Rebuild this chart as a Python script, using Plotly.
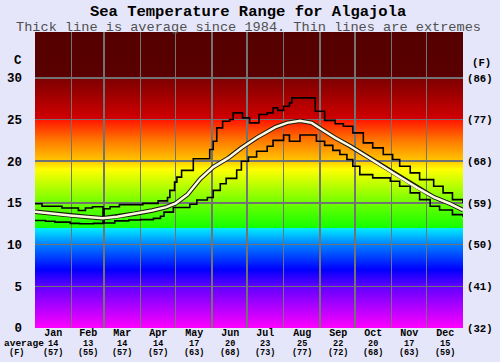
import plotly.graph_objects as go

# ---------------- data ----------------
month_names = ["Jan", "Feb", "Mar", "Apr", "May", "Jun", "Jul", "Aug", "Sep", "Oct", "Nov", "Dec"]
month_days = [31, 28, 31, 30, 31, 30, 31, 31, 30, 31, 30, 31]
month_avg_c = [14, 13, 14, 14, 17, 20, 23, 25, 22, 20, 17, 15]
month_avg_f = [57, 55, 57, 57, 63, 68, 73, 77, 72, 68, 63, 59]

y_ticks_c = [0, 5, 10, 15, 20, 25, 30]
y_ticks_f = ["(32)", "(41)", "(50)", "(59)", "(68)", "(77)", "(86)"]

avg_day = [0, 15, 30, 45, 58, 70, 85, 100, 112, 120, 130, 141, 152, 165, 176, 190, 205, 215,
           226, 236, 247, 256, 269, 283, 297, 311, 326, 340, 354, 365]
avg_temp = [13.95, 13.7, 13.5, 13.3, 13.15, 13.35, 13.7, 14.1, 14.5, 14.95, 16.0, 17.9, 19.3,
            20.4, 21.6, 22.9, 24.1, 24.6, 24.85, 24.6, 23.6, 22.8, 21.8, 20.6, 19.4, 18.1,
            16.8, 15.7, 14.9, 14.15]

max_day = [0, 6, 23, 37, 43, 49, 58, 59, 64, 72, 92, 105, 113, 115, 119, 121, 125, 135, 149,
           152, 155, 160, 166, 169, 177, 183, 191, 198, 203, 207, 212, 217, 219, 239, 247,
           256, 263, 271, 280, 288, 297, 305, 311, 320, 328, 340, 348, 356, 365]
max_temp = [14.9, 14.6, 14.4, 14.1, 14.4, 14.55, 12.6, 14.3, 14.55, 14.8, 14.95, 15.25, 15.65,
            16.5, 17.5, 18.1, 18.9, 20.3, 21.4, 22.4, 24.0, 24.8, 25.0, 25.8, 25.2, 24.6,
            25.6, 25.8, 26.4, 26.1, 26.6, 27.0, 27.6, 26.0, 24.9, 24.5, 24.2, 23.4, 22.2,
            21.6, 20.8, 20.2, 19.4, 18.6, 17.8, 17.0, 16.2, 15.4, 15.0]

min_day = [0, 9, 17, 30, 38, 50, 58, 68, 80, 90, 101, 107, 110, 118, 132, 138, 147, 152, 158,
           163, 172, 176, 182, 189, 198, 203, 212, 217, 226, 240, 247, 254, 260, 266, 271,
           277, 288, 303, 311, 320, 328, 337, 345, 356, 365]
min_temp = [12.9, 12.8, 12.7, 12.55, 12.5, 12.55, 12.6, 12.85, 12.95, 13.0, 13.15, 13.4, 13.9,
            14.45, 14.85, 15.35, 15.65, 16.5, 17.3, 17.95, 18.95, 20.0, 20.5, 21.2, 21.8,
            22.5, 23.15, 22.4, 23.15, 22.4, 21.9, 21.3, 20.8, 20.2, 19.4, 18.4, 18.0, 17.6,
            17.0, 16.2, 15.4, 14.6, 14.15, 13.6, 13.35]

# ---------------- background colour ramp (style) ----------------
Y_TOP = 35.5
color_stops = [
    (0.0, (255, 0, 255)),
    (5.0, (96, 0, 255)),
    (7.0, (0, 0, 255)),
    (10.0, (0, 128, 255)),
    (12.0, (0, 240, 255)),
    (12.03, (20, 255, 0)),
    (15.0, (110, 255, 0)),
    (17.5, (200, 255, 0)),
    (19.0, (255, 255, 0)),
    (20.0, (255, 200, 0)),
    (22.5, (255, 120, 0)),
    (25.0, (255, 20, 0)),
    (25.03, (210, 0, 0)),
    (30.0, (125, 0, 0)),
    (30.03, (90, 0, 0)),
    (35.5, (85, 0, 0)),
]
colorscale = [[t / Y_TOP, "rgb(%d,%d,%d)" % c] for t, c in color_stops]
bg_rows = [i * 0.05 + 0.025 for i in range(int(Y_TOP / 0.05))]

month_bounds = []
mid_days = []
acc = 0
for d in month_days:
    mid_days.append(acc + d / 2)
    acc += d
    month_bounds.append(acc)
month_bounds = month_bounds[:-1]

FONT = "Liberation Mono, Courier New, monospace"
BG = "#e6e6fa"
GRID = "rgba(115,115,115,1)"

fig = go.Figure()
# gradient background in its own (lower) subplot
fig.add_trace(go.Heatmap(x=[0, 365], y=bg_rows, z=[[t, t] for t in bg_rows],
                         colorscale=colorscale, zmin=0, zmax=Y_TOP, showscale=False,
                         hoverinfo="skip", xaxis="x", yaxis="y"))
# extremes
fig.add_trace(go.Scatter(x=max_day, y=max_temp, mode="lines",
                         line=dict(color="black", width=1.6, shape="hv"),
                         hoverinfo="skip", showlegend=False, xaxis="x2", yaxis="y2"))
fig.add_trace(go.Scatter(x=min_day, y=min_temp, mode="lines",
                         line=dict(color="black", width=1.6, shape="hv"),
                         hoverinfo="skip", showlegend=False, xaxis="x2", yaxis="y2"))
# average (on the Fahrenheit-labelled overlay, same scale)
fig.add_trace(go.Scatter(x=avg_day, y=avg_temp, mode="lines", line=dict(color="#1a1a10", width=4.5),
                         hoverinfo="skip", showlegend=False, xaxis="x2", yaxis="y3"))
fig.add_trace(go.Scatter(x=avg_day, y=avg_temp, mode="lines", line=dict(color="#fffbe0", width=2.5),
                         hoverinfo="skip", showlegend=False, xaxis="x2", yaxis="y3"))

annotations = []
PLOT_L, PLOT_T = 35, 32


def ann(text, px, py, size, bold=False, color="black", xanchor="center", align="center"):
    annotations.append(dict(text=f"<b>{text}</b>" if bold else text, xref="paper", yref="paper",
                            x=0, y=1, xshift=px - PLOT_L, yshift=PLOT_T - py, showarrow=False,
                            xanchor=xanchor, yanchor="middle", align=align,
                            font=dict(family=FONT, size=size, color=color)))


ann("Sea Temperature Range for Algajola", 248, 12, 15.5, bold=True)
ann("Thick line is average since 1984. Thin lines are extremes", 248, 27, 13.6, color="#505050")
ann("C", 18, 61, 12.5, bold=True)
ann("(F)", 481, 63, 10.7, bold=True)
ann("<span style='font-size:9.5px'>average</span><br><span style='font-size:8.5px'>&nbsp;(F)</span>",
    2, 347.5, 7.3, bold=True, xanchor="left", align="left")

for name, md, ac, af in zip(month_names, mid_days, month_avg_c, month_avg_f):
    annotations.append(dict(
        text=(f"<b><span style='font-size:10px'>{name}</span><br>"
              f"<span style='font-size:8.5px'>{ac}</span><br>"
              f"<span style='font-size:8.5px'>({af})</span></b>"),
        x=md, xref="x2", y=0, yref="paper", yshift=-14.7, yanchor="middle", showarrow=False,
        font=dict(family=FONT, size=7.4, color="black")))

hidden = dict(showgrid=False, zeroline=False, showline=False, showticklabels=False, ticks="",
              fixedrange=True)
fig.update_layout(
    width=500, height=362,
    margin=dict(l=35, r=37, t=32, b=34, autoexpand=False),
    paper_bgcolor=BG, plot_bgcolor="rgba(0,0,0,0)",
    annotations=annotations,
    showlegend=False,
    xaxis=dict(range=[0, 365], domain=[0, 1], anchor="y", **hidden),
    yaxis=dict(range=[0, Y_TOP], domain=[0, 1], anchor="x", **hidden),
    xaxis2=dict(range=[0, 365], domain=[0, 1], anchor="y2", tickvals=month_bounds,
                showticklabels=False, ticks="", showgrid=True, gridcolor=GRID, gridwidth=1.5,
                zeroline=False, showline=False, fixedrange=True),
    yaxis2=dict(range=[0, Y_TOP], domain=[0, 1], anchor="x2", tickvals=y_ticks_c,
                ticktext=[str(v) for v in y_ticks_c], showgrid=True, gridcolor=GRID,
                gridwidth=1.5, zeroline=False, showline=False, ticks="", ticklabelstandoff=12,
                automargin=False,
                tickfont=dict(family=FONT, size=12.5, color="black", weight="bold"),
                fixedrange=True),
    yaxis3=dict(range=[0, Y_TOP], overlaying="y2", anchor="x2", side="right",
                tickvals=y_ticks_c, ticktext=y_ticks_f, showgrid=False, zeroline=False,
                showline=False, ticks="", ticklabelstandoff=3, automargin=False,
                tickfont=dict(family=FONT, size=10.7, color="black", weight="bold"),
                fixedrange=True),
)

fig.write_html("out.html", config={"displayModeBar": False, "staticPlot": True},
               post_script="document.body.style.margin='0';document.body.style.overflow='hidden';")
